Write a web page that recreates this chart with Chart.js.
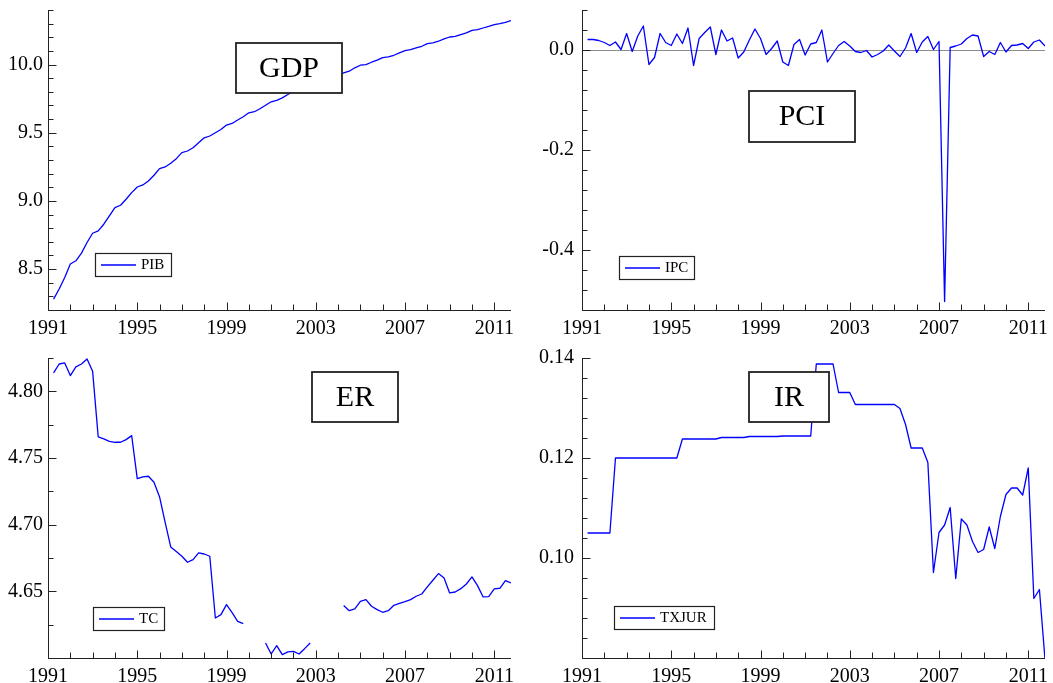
<!DOCTYPE html>
<html>
<head>
<meta charset="utf-8">
<script src="https://cdn.jsdelivr.net/npm/chart.js@4.4.1/dist/chart.umd.min.js"></script>
<style>
  html, body { margin: 0; padding: 0; background: #fff; }
  #wrap { position: relative; width: 1053px; height: 683px; overflow: hidden; }
  canvas { position: absolute; }
</style>
</head>
<body>
<div id="wrap">
  <canvas id="gdpChart" width="525" height="340" style="left:0;top:0"></canvas>
  <canvas id="pciChart" width="528" height="340" style="left:525px;top:0"></canvas>
  <canvas id="erChart" width="525" height="343" style="left:0;top:340px"></canvas>
  <canvas id="irChart" width="528" height="343" style="left:525px;top:340px"></canvas>
</div>
<script>
// quarterly observations, 1991Q2 .. 2011Q4 (plotted as decimal years)
var quarters = [];
for (var q = 0; q < 83; q++) quarters.push(1991.25 + q * 0.25);

var yearTicks = [1991, 1995, 1999, 2003, 2007, 2011];

var pib = [
  8.280, 8.354, 8.439, 8.537, 8.561, 8.617, 8.695, 8.763, 8.780, 8.829,
  8.890, 8.951, 8.968, 9.012, 9.061, 9.102, 9.117, 9.146, 9.188, 9.237,
  9.249, 9.276, 9.310, 9.354, 9.366, 9.390, 9.427, 9.463, 9.476, 9.500,
  9.524, 9.556, 9.568, 9.593, 9.617, 9.646, 9.654, 9.676, 9.702, 9.727,
  9.737, 9.756, 9.780, 9.807, 9.820, 9.835, 9.850, 9.870, 9.880, 9.895,
  9.910, 9.925, 9.939, 9.951, 9.976, 9.995, 10.000, 10.017, 10.032, 10.051,
  10.056, 10.068, 10.085, 10.102, 10.110, 10.122, 10.134, 10.154, 10.159, 10.171,
  10.188, 10.202, 10.207, 10.220, 10.232, 10.251, 10.256, 10.268, 10.280, 10.293,
  10.300, 10.310, 10.322
];

var ipc = [
  0.021, 0.021, 0.019, 0.015, 0.009, 0.016, 0.001, 0.033, -0.003, 0.028,
  0.048, -0.029, -0.015, 0.033, 0.015, 0.009, 0.032, 0.013, 0.044, -0.031,
  0.023, 0.035, 0.046, -0.009, 0.040, 0.018, 0.024, -0.016, -0.004, 0.020,
  0.042, 0.023, -0.009, 0.003, 0.018, -0.024, -0.031, 0.011, 0.021, -0.010,
  0.012, 0.015, 0.040, -0.024, -0.007, 0.009, 0.017, 0.008, -0.003, -0.005,
  -0.001, -0.014, -0.009, -0.002, 0.010, -0.002, -0.013, 0.004, 0.033, -0.005,
  0.016, 0.027, 0.001, 0.017, -0.503, 0.005, 0.008, 0.012, 0.023, 0.030,
  0.028, -0.013, -0.003, -0.009, 0.015, -0.004, 0.009, 0.010, 0.013, 0.003,
  0.016, 0.020, 0.008
];

var tc = [
  4.8138, 4.8205, 4.8213, 4.8118, 4.8183, 4.8205, 4.8243, 4.8150, 4.7658, 4.7643,
  4.7625, 4.7618, 4.7618, 4.7638, 4.7668, 4.7345, 4.7358, 4.7363, 4.7318, 4.7208,
  4.7018, 4.6833, 4.6798, 4.6763, 4.6718, 4.6738, 4.6788, 4.6780, 4.6763, 4.6300,
  4.6325, 4.6400, 4.6340, 4.6275, 4.6258, null, null, null, 4.6113, 4.6030,
  4.6093, 4.6025, 4.6046, 4.6050, 4.6030, 4.6070, 4.6113, null, null, null,
  null, null, 4.6393, 4.6355, 4.6368, 4.6425, 4.6438, 4.6388, 4.6363, 4.6343,
  4.6355, 4.6395, 4.6410, 4.6423, 4.6438, 4.6463, 4.6480, 4.6533, 4.6583, 4.6633,
  4.6600, 4.6488, 4.6495, 4.6520, 4.6555, 4.6608, 4.6543, 4.6458, 4.6460, 4.6518,
  4.6523, 4.6580, 4.6563
];

var txjur = [
  0.1050, 0.1050, 0.1050, 0.1050, 0.1050, 0.1200, 0.1200, 0.1200, 0.1200, 0.1200,
  0.1200, 0.1200, 0.1200, 0.1200, 0.1200, 0.1200, 0.1200, 0.1238, 0.1238, 0.1238,
  0.1238, 0.1238, 0.1238, 0.1238, 0.1241, 0.1241, 0.1241, 0.1241, 0.1241, 0.1243,
  0.1243, 0.1243, 0.1243, 0.1243, 0.1243, 0.1244, 0.1244, 0.1244, 0.1244, 0.1244,
  0.1244, 0.1388, 0.1388, 0.1388, 0.1388, 0.1331, 0.1331, 0.1331, 0.1307, 0.1307,
  0.1307, 0.1307, 0.1307, 0.1307, 0.1307, 0.1307, 0.1299, 0.1267, 0.1220, 0.1220,
  0.1220, 0.1191, 0.0971, 0.1051, 0.1066, 0.1101, 0.0959, 0.1078, 0.1066, 0.1033,
  0.1011, 0.1017, 0.1062, 0.1019, 0.1083, 0.1127, 0.1140, 0.1140, 0.1126, 0.1180,
  0.0919, 0.0937, 0.0797
];

var serif = "'Liberation Serif', 'DejaVu Serif', serif";
Chart.defaults.font.family = serif;
Chart.defaults.color = '#000';

// inward tick marks, axis lines, zero line, title box and legend box
var oxmetricsLook = {
  id: 'oxmetricsLook',
  beforeDatasetsDraw: function (chart, args, opts) {
    if (!opts.zeroLine) return;
    var ctx = chart.ctx, a = chart.chartArea;
    var y0 = Math.round(chart.scales.y.getPixelForValue(0)) + 0.5;
    ctx.save();
    ctx.strokeStyle = '#8c8c8c';
    ctx.lineWidth = 1;
    ctx.beginPath();
    ctx.moveTo(a.left, y0);
    ctx.lineTo(a.right, y0);
    ctx.stroke();
    ctx.restore();
  },
  afterDraw: function (chart, args, opts) {
    var ctx = chart.ctx, a = chart.chartArea;
    var xs = chart.scales.x, ys = chart.scales.y;
    var left = Math.round(a.left) + 0.5, bottom = Math.round(a.bottom) + 0.5;
    ctx.save();
    ctx.strokeStyle = '#222';
    ctx.lineWidth = 1;
    ctx.beginPath();
    ctx.moveTo(left, a.top);
    ctx.lineTo(left, bottom);
    ctx.lineTo(a.right, bottom);
    for (var yr = Math.ceil(xs.min); yr <= xs.max; yr++) {
      var px = Math.round(xs.getPixelForValue(yr)) + 0.5;
      var len = yearTicks.indexOf(yr) >= 0 ? 8 : 6;
      ctx.moveTo(px, bottom);
      ctx.lineTo(px, bottom - len);
    }
    var step = opts.minorStep;
    var n0 = Math.ceil(ys.min / step - 1e-6), n1 = Math.floor(ys.max / step + 1e-6);
    for (var n = n0; n <= n1; n++) {
      var v = n * step;
      var major = opts.majorTicks.some(function (m) { return Math.abs(m - v) < step / 10; });
      var py = Math.round(ys.getPixelForValue(v)) + 0.5;
      ctx.moveTo(left, py);
      ctx.lineTo(left + (major ? 8 : 5), py);
    }
    ctx.stroke();

    // title box
    var t = opts.title;
    ctx.fillStyle = '#fff';
    ctx.fillRect(t.x, t.y, t.w, t.h);
    ctx.strokeStyle = '#222';
    ctx.lineWidth = 1.8;
    ctx.strokeRect(t.x, t.y, t.w, t.h);
    ctx.fillStyle = '#000';
    ctx.font = '30px ' + serif;
    ctx.textAlign = 'center';
    ctx.textBaseline = 'middle';
    ctx.fillText(t.text, t.x + t.w / 2, t.y + t.h / 2 + 1);

    // legend box
    var l = opts.legend;
    ctx.fillStyle = '#fff';
    ctx.fillRect(l.x, l.y, l.w, l.h);
    ctx.strokeStyle = '#222';
    ctx.lineWidth = 1.2;
    ctx.strokeRect(l.x + 0.5, l.y + 0.5, l.w, l.h);
    ctx.strokeStyle = '#0000ff';
    ctx.lineWidth = 1.4;
    ctx.beginPath();
    ctx.moveTo(l.x + 6, l.y + l.h / 2 + 0.5);
    ctx.lineTo(l.x + 41, l.y + l.h / 2 + 0.5);
    ctx.stroke();
    ctx.fillStyle = '#000';
    ctx.font = '15px ' + serif;
    ctx.textAlign = 'left';
    ctx.fillText(l.text, l.x + 46, l.y + l.h / 2 + 1);
    ctx.restore();
  }
};

function makePanel(canvasId, series, p) {
  return new Chart(document.getElementById(canvasId), {
    type: 'line',
    data: {
      datasets: [{
        label: p.legend.text,
        data: quarters.map(function (x, i) { return { x: x, y: series[i] }; }),
        borderColor: '#0000ff',
        borderWidth: 1.3,
        borderJoinStyle: 'round',
        pointRadius: 0,
        pointHitRadius: 0,
        tension: 0,
        fill: false,
        spanGaps: false
      }]
    },
    options: {
      responsive: false,
      animation: false,
      events: [],
      layout: { padding: { top: p.top, right: p.right, left: 0, bottom: 0 } },
      plugins: {
        legend: { display: false },
        tooltip: { enabled: false },
        oxmetricsLook: {
          minorStep: p.minorStep,
          majorTicks: p.majorTicks,
          zeroLine: !!p.zeroLine,
          title: p.title,
          legend: p.legend
        }
      },
      scales: {
        x: {
          type: 'linear',
          min: 1991,
          max: 2011.75,
          grid: { display: false, drawTicks: false },
          border: { display: false },
          afterBuildTicks: function (scale) {
            scale.ticks = yearTicks.map(function (v) { return { value: v }; });
          },
          afterFit: function (scale) {
            scale.height = p.xHeight;
            scale.paddingLeft = 0;
            scale.paddingRight = 0;
          },
          ticks: {
            autoSkip: false,
            maxRotation: 0,
            padding: 7,
            font: { size: 20 },
            color: '#000',
            callback: function (v) { return String(v); }
          }
        },
        y: {
          min: p.yMin,
          max: p.yMax,
          grid: { display: false, drawTicks: false },
          border: { display: false },
          afterBuildTicks: function (scale) {
            scale.ticks = p.majorTicks.map(function (v) { return { value: v }; });
          },
          afterFit: function (scale) {
            scale.width = p.yWidth;
            scale.paddingTop = 0;
            scale.paddingBottom = 0;
          },
          ticks: {
            autoSkip: false,
            padding: p.yPad,
            font: { size: 20 },
            color: '#000',
            callback: function (v) { return Number(v).toFixed(p.decimals); }
          }
        }
      }
    },
    plugins: [oxmetricsLook]
  });
}

var gdpChart = makePanel('gdpChart', pib, {
  yMin: 8.2, yMax: 10.4, majorTicks: [8.5, 9.0, 9.5, 10.0], minorStep: 0.1, decimals: 1,
  top: 10, right: 14, yWidth: 48, xHeight: 30, yPad: 5,
  title: { x: 236, y: 43, w: 106, h: 50, text: 'GDP' },
  legend: { x: 95, y: 253, w: 76, h: 23, text: 'PIB' }
});

var pciChart = makePanel('pciChart', ipc, {
  yMin: -0.52, yMax: 0.08, majorTicks: [-0.4, -0.2, 0.0], minorStep: 0.04, decimals: 1,
  top: 10, right: 8, yWidth: 57, xHeight: 30, yPad: 8, zeroLine: true,
  title: { x: 224, y: 91, w: 106, h: 51, text: 'PCI' },
  legend: { x: 94, y: 256, w: 75, h: 23, text: 'IPC' }
});

var erChart = makePanel('erChart', tc, {
  yMin: 4.6, yMax: 4.825, majorTicks: [4.65, 4.70, 4.75, 4.80], minorStep: 0.025, decimals: 2,
  top: 18, right: 14, yWidth: 48, xHeight: 25, yPad: 5,
  title: { x: 312, y: 32, w: 86, h: 50, text: 'ER' },
  legend: { x: 93, y: 267, w: 71, h: 23, text: 'TC' }
});

var irChart = makePanel('irChart', txjur, {
  yMin: 0.08, yMax: 0.14, majorTicks: [0.10, 0.12, 0.14], minorStep: 0.004, decimals: 2,
  top: 18, right: 8, yWidth: 57, xHeight: 25, yPad: 8,
  title: { x: 224, y: 32, w: 80, h: 50, text: 'IR' },
  legend: { x: 89, y: 266, w: 100, h: 23, text: 'TXJUR' }
});
</script>
</body>
</html>
